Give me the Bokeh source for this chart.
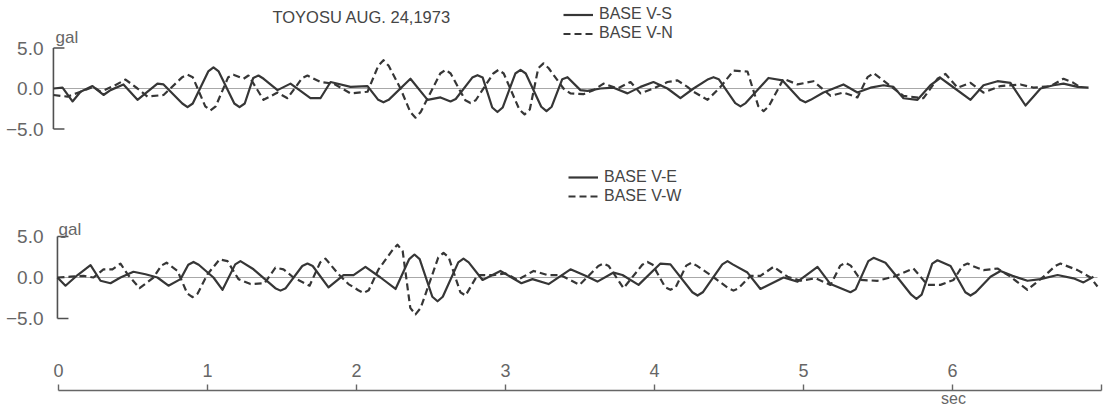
from bokeh.plotting import figure
from bokeh.layouts import column
from bokeh.models import Range1d, Legend, LegendItem, Label, FixedTicker
from bokeh.embed import file_html
from bokeh.resources import INLINE

# ---------------- data ----------------
TITLE = "TOYOSU AUG. 24,1973"
UNIT = "gal"
TIME_UNIT = "sec"
SCALE_TICKS = [-5.0, 0.0, 5.0]
SCALE_LABELS = ["\u22125.0", "0.0", "5.0"]
TIME_TICKS = [0, 1, 2, 3, 4, 5, 6, 7]
TIME_LABELS = ["0", "1", "2", "3", "4", "5", "6", ""]

# BASE V-S (top, solid): main readings
vs_t = [-0.034, 0.027, 0.094, 0.148, 0.228, 0.302, 0.349, 0.436, 0.530, 0.664,
        0.705, 0.866, 1.040, 1.215, 1.342, 1.470, 1.557, 1.691, 1.758, 1.826,
        1.960, 2.074, 2.181, 2.362, 2.477, 2.564, 2.631, 2.812, 2.946, 3.101,
        3.275, 3.416, 3.503, 3.550, 3.638, 3.725, 3.819, 3.906, 3.993, 4.087,
        4.174, 4.262, 4.396, 4.577, 4.765, 4.859, 5.013, 5.134, 5.268, 5.362,
        5.450, 5.537, 5.604, 5.671, 5.765, 5.852, 5.919, 5.987, 6.121, 6.208,
        6.302, 6.389, 6.490, 6.544, 6.591, 6.678, 6.745, 6.839, 6.913]
vs_v = [0.0, 0.1, -1.6, -0.4, 0.3, -0.8, -0.2, 0.5, -1.4, 0.6,
        0.5, -2.3, 2.6, -2.3, 1.6, -0.2, 0.6, -1.2, -1.2, 0.8,
        0.2, 0.3, -1.7, 1.2, -1.4, -1.1, -1.6, 1.65, -2.9, 2.3,
        -2.8, 1.4, -0.2, -0.3, 0.0, 0.1, -0.6, 0.2, 0.8, 0.0,
        -1.2, 0.0, 1.4, -2.2, 1.3, 1.0, -1.7, -0.5, 0.5, -0.5,
        0.1, 0.4, 0.2, -1.2, -1.4, 0.4, 1.3, 0.4, -1.4, 0.4,
        0.9, 0.7, -2.1, -1.0, 0.0, 0.4, 0.6, 0.2, 0.1]
# BASE V-S: readings on the rounded shoulders of the larger swings
vs_t2 = [0.831, 0.901, 1.005, 1.075, 1.180, 1.250, 1.307, 1.377, 2.146, 2.216,
         2.666, 2.777, 2.847, 2.911, 2.981, 3.066, 3.136, 3.240, 3.310, 3.381,
         4.361, 4.431, 4.542, 4.612, 4.978, 5.048]
vs_v2 = [-1.85, -1.85, 2.1, 2.1, -1.85, -1.85, 1.3, 1.2, -1.4, -1.4,
         -1.3, 1.35, 1.35, -2.35, -2.35, 1.85, 1.85, -2.25, -2.25, 1.15,
         1.15, 1.15, -1.8, -1.8, -1.4, -1.4]

# BASE V-N (top, dashed)
vn_t = [-0.034, 0.060, 0.148, 0.235, 0.282, 0.369, 0.450, 0.530, 0.597, 0.705,
        0.866, 1.020, 1.174, 1.242, 1.275, 1.376, 1.470, 1.537, 1.671, 1.758,
        1.846, 1.960, 2.074, 2.181, 2.295, 2.396, 2.597, 2.765, 2.953, 3.128,
        3.255, 3.389, 3.436, 3.523, 3.591, 3.658, 3.752, 3.839, 3.906, 3.993,
        4.087, 4.154, 4.221, 4.262, 4.356, 4.443, 4.530, 4.624, 4.732, 4.866,
        4.960, 5.067, 5.181, 5.268, 5.362, 5.430, 5.470, 5.584, 5.671, 5.805,
        5.899, 5.953, 6.034, 6.121, 6.208, 6.322, 6.456, 6.544, 6.658, 6.745,
        6.812, 6.846]
vn_v = [-0.8, -1.0, -0.4, 0.2, -0.4, 0.3, 1.1, 0.0, -1.0, -0.8,
        1.7, -2.7, 1.7, 1.2, 1.6, -1.4, -0.5, -1.2, 1.6, 0.8,
        0.6, -0.6, -0.4, 3.5, 0.0, -3.6, 2.3, -1.8, 2.3, -3.2,
        3.1, 0.0, -0.6, -0.7, -0.2, 0.6, 0.0, 0.8, -0.6, 0.0,
        0.8, 1.0, 0.2, -0.4, -1.4, 0.2, 2.2, 2.1, -2.8, 1.2,
        0.5, 0.9, -0.9, -0.5, -1.1, 1.4, 1.9, 0.3, -0.9, -1.2,
        1.2, 1.8, 0.1, 0.7, -0.5, 0.3, 0.5, 0.1, 0.3, 1.2,
        0.7, 0.3]
vn_t2 = [0.831, 0.901, 0.985, 1.055, 1.139, 1.636, 2.146, 2.216, 2.361, 2.431,
         2.562, 2.632, 2.730, 2.800, 2.918, 2.988, 3.093, 3.163, 3.220, 3.290,
         4.697, 4.767]
vn_v2 = [1.4, 1.4, -2.2, -2.2, 1.4, 1.3, 2.8, 2.8, -2.9, -2.9,
         1.85, 1.85, -1.45, -1.45, 1.85, 1.85, -2.6, -2.6, 2.5, 2.5,
         -2.2, -2.2]

# BASE V-E (bottom, solid)
ve_t = [-0.007, 0.047, 0.128, 0.215, 0.282, 0.349, 0.416, 0.503, 0.584, 0.664,
        0.738, 0.819, 0.906, 1.040, 1.101, 1.221, 1.309, 1.490, 1.671, 1.812,
        1.913, 1.980, 2.060, 2.161, 2.262, 2.389, 2.544, 2.718, 2.846, 2.966,
        3.107, 3.181, 3.289, 3.436, 3.537, 3.617, 3.725, 3.785, 3.893, 4.040,
        4.107, 4.289, 4.490, 4.624, 4.711, 4.866, 4.960, 5.094, 5.181, 5.315,
        5.470, 5.550, 5.631, 5.758, 5.899, 5.987, 6.121, 6.255, 6.322, 6.403,
        6.503, 6.591, 6.705, 6.812, 6.879, 6.946]
ve_v = [0.0, -1.0, 0.3, 1.5, -0.4, -0.7, 0.0, 0.7, 0.4, 0.0,
        -1.0, -0.2, 1.9, 0.0, -1.5, 2.0, 1.0, -1.6, 1.7, -1.2,
        0.3, 0.3, 1.3, 0.0, -1.4, 2.8, -2.9, 2.3, -0.3, 0.8,
        -0.7, -0.2, -0.8, 1.0, 0.2, -0.5, 0.6, 0.3, -0.9, 1.7,
        1.6, -2.2, 2.0, 0.6, -1.4, 0.0, -0.5, 1.3, -0.8, -1.8,
        2.4, 1.8, 0.0, -2.6, 2.1, 1.4, -2.2, 0.1, 0.8, 0.2,
        -0.4, -0.2, 0.3, -0.1, -0.6, 0.1]
ve_t2 = [0.871, 0.941, 1.186, 1.455, 1.525, 1.636, 1.706, 2.354, 2.424, 2.509,
         2.579, 2.683, 2.753, 4.254, 4.324, 4.455, 4.525, 5.350, 5.435, 5.723,
         5.793, 5.864, 6.086, 6.156]
ve_v2 = [1.55, 1.55, 1.6, -1.3, -1.3, 1.4, 1.4, 2.25, 2.25, -2.35,
         -2.35, 1.85, 1.85, -1.8, -1.8, 1.6, 1.6, -1.45, 2.0, -2.1,
         -2.1, 1.7, -1.8, -1.8]

# BASE V-W (bottom, dashed)
vw_t = [-0.007, 0.081, 0.168, 0.235, 0.302, 0.362, 0.416, 0.463, 0.544, 0.638,
        0.725, 0.799, 0.899, 1.000, 1.081, 1.134, 1.208, 1.289, 1.383, 1.456,
        1.510, 1.577, 1.685, 1.792, 1.879, 1.946, 2.047, 2.148, 2.275, 2.396,
        2.584, 2.732, 2.812, 2.919, 3.000, 3.081, 3.188, 3.282, 3.369, 3.497,
        3.658, 3.792, 3.953, 4.107, 4.248, 4.376, 4.530, 4.644, 4.711, 4.799,
        4.893, 4.980, 5.081, 5.181, 5.282, 5.383, 5.497, 5.604, 5.738, 5.832,
        5.919, 6.007, 6.101, 6.208, 6.302, 6.389, 6.503, 6.611, 6.725, 6.839,
        6.926, 6.973]
vw_v = [0.0, 0.1, 0.2, 0.0, 1.0, 1.0, 1.7, 0.4, -1.3, 0.0,
        1.8, 0.8, -2.4, 0.4, 2.2, 2.0, -0.2, -0.8, -0.7, 1.2,
        1.0, 0.0, -1.0, 2.3, 0.4, -0.8, -1.9, 1.0, 4.0, -4.5,
        3.0, -2.2, 0.3, 0.3, 0.5, -0.3, 0.8, 0.3, 0.3, -0.9,
        1.7, -1.3, 1.9, -1.5, 1.8, 0.3, -1.6, 0.2, 0.2, 1.3,
        0.1, -0.4, -0.1, -0.9, 1.8, -0.3, -0.4, 0.1, 1.1, -0.9,
        -0.9, -0.3, 1.7, 0.9, 1.1, 0.1, -1.5, 0.1, 1.7, 0.9,
        0.0, -1.1]
vw_t2 = [0.690, 0.864, 0.934, 1.757, 2.012, 2.082, 2.240, 2.310, 2.361, 2.431,
         2.549, 2.619, 2.697, 3.623, 3.693, 3.918, 3.988, 4.072, 4.142, 4.213,
         4.283, 4.495, 4.565, 5.247, 5.317, 6.066, 6.136, 6.690]
vw_v2 = [1.45, -1.95, -1.95, 1.85, -1.55, -1.55, 3.3, 3.2, -3.7, -3.7,
         2.45, 2.45, -1.8, 1.4, 1.4, 1.55, 1.55, -1.2, -1.2, 1.45,
         1.45, -1.3, -1.3, 1.45, 1.45, 1.4, 1.4, 1.4]

for a, b in ((vs_t, vs_v), (vn_t, vn_v), (ve_t, ve_v), (vw_t, vw_v),
             (vs_t2, vs_v2), (vn_t2, vn_v2), (ve_t2, ve_v2), (vw_t2, vw_v2)):
    assert len(a) == len(b)


def merged(t1, v1, t2, v2):
    pts = sorted(zip(list(t1) + list(t2), list(v1) + list(v2)))
    return [p[0] for p in pts], [p[1] for p in pts]


# ---------------- style / layout ----------------
FONT = "Liberation Sans Narrow, Liberation Sans, sans-serif"
INK = "#363636"
TXT = "#454545"
GRAY = "#666666"
ZERO = "#a8a8a8"

W = 1106
FL, FR = 50, 1104          # frame left / right in page pixels
T0_PX, PX_PER_S = 58.0, 149.0
XR = ((FL - T0_PX) / PX_PER_S, (FR - T0_PX) / PX_PER_S)


def tx(px):
    return (px - T0_PX) / PX_PER_S


def panel(h, zero_px, ppg):
    p = figure(width=W, height=h,
               x_range=Range1d(*XR),
               y_range=Range1d(-(h - zero_px) / ppg, zero_px / ppg),
               output_backend="svg", toolbar_location=None,
               x_axis_location=None, y_axis_location="left",
               min_border_left=FL, min_border_right=W - FR,
               min_border_top=0, min_border_bottom=0,
               outline_line_color=None)
    p.grid.visible = False
    ax = p.yaxis[0]
    ax.ticker = FixedTicker(ticks=SCALE_TICKS)
    ax.major_label_overrides = dict(zip(SCALE_TICKS, SCALE_LABELS))
    ax.axis_line_color = None
    ax.major_tick_line_color = None
    ax.minor_tick_line_color = None
    ax.major_tick_out = 0
    ax.major_tick_in = 0
    ax.major_label_standoff = 7
    ax.major_label_text_font = FONT
    ax.major_label_text_font_size = "19px"
    ax.major_label_text_color = GRAY
    return p


def draw_panel(p, sol, dash, names, legend_xy, item_h):
    t_sol, v_sol = sol
    t_dash, v_dash = dash
    t_min = min(t_sol[0], t_dash[0])
    t_max = max(t_sol[-1], t_dash[-1])
    # zero line
    p.segment(x0=[t_min], y0=[0], x1=[t_max], y1=[0], line_color=ZERO, line_width=1)
    # scale bracket
    lo, hi = min(SCALE_TICKS), max(SCALE_TICKS)
    tick = 11 / PX_PER_S
    p.segment(x0=[t_min, t_min, t_min], y0=[lo, hi, lo],
              x1=[t_min, t_min + tick, t_min + tick], y1=[hi, hi, lo],
              line_color="#505050", line_width=1.6)
    r1 = p.line(t_sol, v_sol, line_color=INK, line_width=2.2, line_join="round")
    r2 = p.line(t_dash, v_dash, line_color=INK, line_width=2.2, line_dash="7 4",
                line_join="round")
    leg = Legend(items=[LegendItem(label=names[0], renderers=[r1]),
                        LegendItem(label=names[1], renderers=[r2])],
                 location=legend_xy, orientation="vertical",
                 padding=0, margin=0, spacing=1,
                 glyph_width=30, glyph_height=item_h, label_height=item_h,
                 label_standoff=6,
                 label_text_font=FONT, label_text_font_size="16px",
                 label_text_color=TXT,
                 border_line_color=None, background_fill_alpha=0)
    p.add_layout(leg)
    return p


# top panel: page y 0..160, zero at 88 px, 8.1 px per gal
HA, ZA, PA = 160, 88, 8.1
pa = panel(HA, ZA, PA)
draw_panel(pa, merged(vs_t, vs_v, vs_t2, vs_v2), merged(vn_t, vn_v, vn_t2, vn_v2),
           ["BASE V-S", "BASE V-N"], (513, 118), 17)
pa.add_layout(Label(x=tx(272), y=(ZA - 16) / PA, text=TITLE,
                    text_font=FONT, text_font_size="16.5px", text_color=TXT,
                    text_baseline="middle", text_align="left"))
pa.add_layout(Label(x=tx(55), y=(ZA - 37) / PA, text=UNIT,
                    text_font=FONT, text_font_size="17px", text_color=GRAY,
                    text_baseline="middle", text_align="left"))

# bottom panel: page y 160..345, zero at local 117 px, 8.2 px per gal
HB, ZB, PB = 185, 117, 8.2
pb = panel(HB, ZB, PB)
draw_panel(pb, merged(ve_t, ve_v, ve_t2, ve_v2), merged(vw_t, vw_v, vw_t2, vw_v2),
           ["BASE V-E", "BASE V-W"], (518, 140), 18)
pb.add_layout(Label(x=tx(58), y=(ZB - 69) / PB, text=UNIT,
                    text_font=FONT, text_font_size="17px", text_color=GRAY,
                    text_baseline="middle", text_align="left"))

# time axis: page y 345..409, axis line at page y 390
HC, TOPC = 64, 45
pc = figure(width=W, height=HC, x_range=Range1d(*XR), y_range=Range1d(0, 1),
            output_backend="svg", toolbar_location=None,
            x_axis_location="above", y_axis_location=None,
            min_border_left=FL, min_border_right=W - FR,
            min_border_top=TOPC, min_border_bottom=0,
            outline_line_color=None)
pc.grid.visible = False
xa = pc.xaxis[0]
xa.ticker = FixedTicker(ticks=TIME_TICKS)
xa.major_label_overrides = dict(zip(TIME_TICKS, TIME_LABELS))
xa.bounds = (min(TIME_TICKS), max(TIME_TICKS))
xa.axis_line_color = GRAY
xa.axis_line_width = 1.4
xa.major_tick_line_color = GRAY
xa.major_tick_line_width = 1.4
xa.major_tick_out = 6
xa.major_tick_in = 0
xa.minor_tick_line_color = None
xa.major_label_standoff = 8
xa.major_label_text_font = FONT
xa.major_label_text_font_size = "18px"
xa.major_label_text_color = GRAY
pc.add_layout(Label(x=tx(953), y=(HC - TOPC - 8) / (HC - TOPC), text=TIME_UNIT,
                    text_font=FONT, text_font_size="16px", text_color=GRAY,
                    text_baseline="middle", text_align="center"))

layout = column(pa, pb, pc, spacing=0)
open("out.html", "w").write(file_html(layout, INLINE))
